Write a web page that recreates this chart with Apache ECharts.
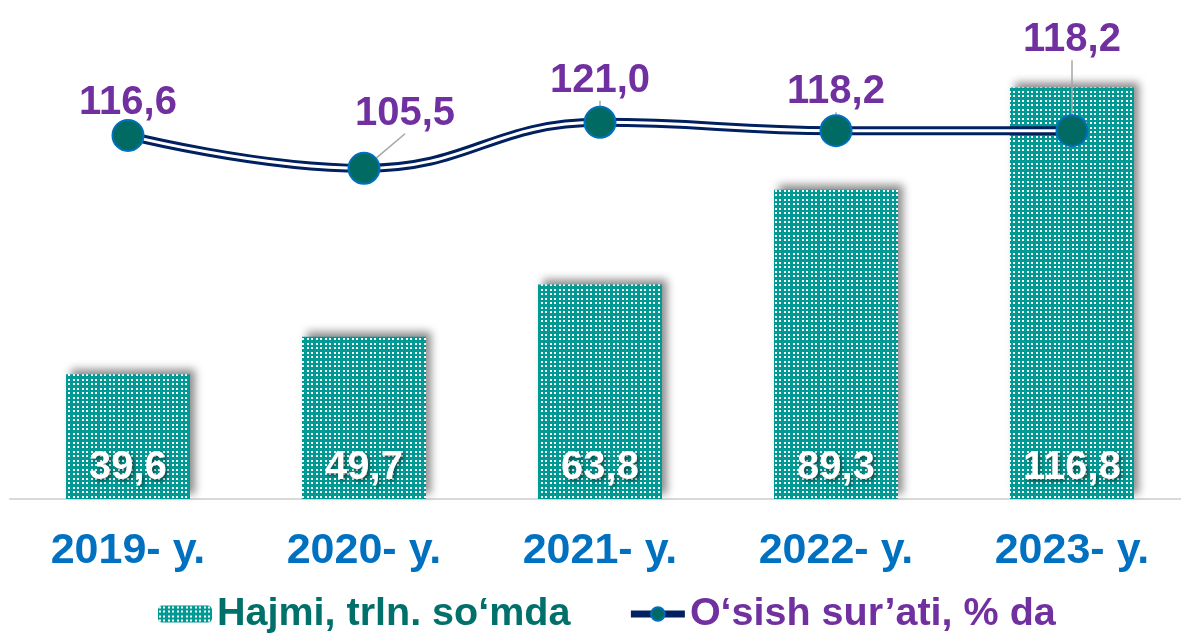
<!DOCTYPE html>
<html>
<head>
<meta charset="utf-8">
<script src="https://cdn.jsdelivr.net/npm/echarts@6/dist/echarts.min.js"></script>
<style>
html,body{margin:0;padding:0;background:#fff;overflow:hidden;}
#chart{width:1190px;height:641px;}
</style>
</head>
<body>
<div id="chart"></div>
<script>
// ---- data ----
var categories = ['2019- y.', '2020- y.', '2021- y.', '2022- y.', '2023- y.'];
var volumeName = 'Hajmi, trln. so‘mda';
var volumeValues = [39.6, 49.7, 63.8, 89.3, 116.8];
var growthName = 'O‘sish sur’ati, % da';
var growthValues = [116.6, 105.5, 121.0, 118.2, 118.2];

// ---- styling helpers ----
var FONT = '"Liberation Sans", Arial, sans-serif';
var TEAL = '#009994';
var NAVY = '#002060';
var PURPLE = '#7030A0';

function makePattern() {
  var c = document.createElement('canvas');
  c.width = 9; c.height = 9;
  var ctx = c.getContext('2d');
  ctx.fillStyle = TEAL;
  ctx.fillRect(0, 0, 9, 9);
  ctx.fillStyle = '#ffffff';
  var pos = [1, 5];
  for (var i = 0; i < 2; i++) {
    for (var j = 0; j < 2; j++) {
      ctx.fillRect(pos[i], pos[j], 2, 2);
    }
  }
  return c;
}
var pattern = { image: makePattern(), repeat: 'repeat' };

function fmt(v) { return v.toFixed(1).replace('.', ','); }

// label displacement for the growth labels (dx, dy)
var labelShift = [[0, 0], [41, -22], [0, -9], [0, -6], [0, -58]];
var showLeader = [false, true, true, true, true];

var growthData = growthValues.map(function (v, i) {
  return { value: v, labelLine: { show: showLeader[i] } };
});

var chart = echarts.init(document.getElementById('chart'));
chart.setOption({
  animation: false,
  backgroundColor: '#ffffff',
  grid: { left: 10, right: 0, top: 20, bottom: 142 },
  legend: {
    left: 153,
    bottom: 2,
    itemWidth: 54,
    itemHeight: 17,
    itemGap: 57,
    textStyle: { fontFamily: FONT, fontSize: 39.5, fontWeight: 'bold' },
    data: [
      { name: volumeName, textStyle: { color: '#00706B' } },
      { name: growthName, textStyle: { color: PURPLE },
        lineStyle: { color: NAVY, width: 7, opacity: 1 } }
    ]
  },
  xAxis: {
    type: 'category',
    data: categories,
    axisTick: { show: false },
    axisLine: { onZero: false, lineStyle: { color: '#D9D9D9', width: 2 } },
    axisLabel: {
      color: '#0070C0', fontFamily: FONT, fontSize: 43, fontWeight: 'bold', margin: 31
    }
  },
  yAxis: [
    { type: 'value', min: 6, max: 135, show: false, splitLine: { show: false } },
    { type: 'value', min: -6, max: 155.5, show: false, splitLine: { show: false } }
  ],
  series: [
    {
      name: volumeName,
      type: 'bar',
      barWidth: 124,
      data: volumeValues,
      itemStyle: {
        color: pattern,
        shadowColor: 'rgba(0,0,0,0.45)',
        shadowBlur: 9,
        shadowOffsetX: 5,
        shadowOffsetY: -5
      },
      label: {
        show: true,
        position: 'insideBottom',
        distance: 11,
        color: '#ffffff',
        fontFamily: FONT,
        fontSize: 40,
        fontWeight: 'bold',
        textShadowColor: 'rgba(0,0,0,0.55)',
        textShadowBlur: 4,
        textShadowOffsetX: 2,
        textShadowOffsetY: 2,
        formatter: function (p) { return fmt(p.value); }
      },
      z: 1
    },
    {
      name: 'outer',
      type: 'line',
      yAxisIndex: 1,
      smooth: 0.45,
      symbol: 'none',
      silent: true,
      data: growthValues,
      lineStyle: { color: NAVY, width: 9 },
      z: 3
    },
    {
      name: 'inner',
      type: 'line',
      yAxisIndex: 1,
      smooth: 0.45,
      symbol: 'none',
      silent: true,
      data: growthValues,
      lineStyle: { color: '#ffffff', width: 3 },
      z: 4
    },
    {
      name: growthName,
      type: 'line',
      yAxisIndex: 1,
      smooth: 0.45,
      data: growthData,
      symbol: 'circle',
      symbolSize: 31,
      lineStyle: { color: NAVY, width: 7, opacity: 0 },
      itemStyle: { color: '#006A63', borderColor: '#0070C0', borderWidth: 2 },
      label: {
        show: true,
        position: 'top',
        distance: -4,
        color: PURPLE,
        fontFamily: FONT,
        fontSize: 40,
        fontWeight: 'bold',
        formatter: function (p) { return fmt(p.value); }
      },
      labelLine: { show: false, lineStyle: { color: '#A6A6A6', width: 1.5 } },
      labelLayout: function (params) {
        var s = labelShift[params.dataIndex];
        return { dx: s[0], dy: s[1] };
      },
      z: 5
    }
  ]
});
</script>
</body>
</html>
